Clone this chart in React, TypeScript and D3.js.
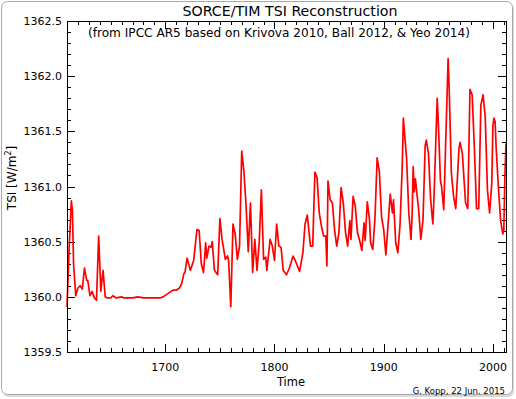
import { useEffect, useRef } from 'react';
import * as d3 from 'd3';

// TSI reconstruction, values
const years = [
  1610, 1612, 1614, 1615, 1616, 1618, 1620, 1622, 1624, 1626, 1628, 1629, 1631, 1633, 1635, 1637, 1639, 1641, 1643, 1645,
  1647, 1650, 1652, 1655, 1660, 1662, 1670, 1675, 1680, 1685, 1690, 1695, 1698, 1701, 1704, 1707, 1710, 1713, 1715, 1717,
  1718, 1720, 1723, 1726, 1729, 1731, 1733, 1735, 1737, 1738, 1740, 1742, 1743, 1745, 1748, 1750, 1752, 1755, 1757, 1758,
  1760, 1762, 1764, 1766, 1768, 1770, 1772, 1774, 1776, 1778, 1780, 1782, 1784, 1786, 1788, 1790, 1792, 1793, 1796, 1798,
  1800, 1802, 1804, 1806, 1808, 1811, 1814, 1817, 1819, 1823, 1826, 1828, 1830, 1833, 1835, 1837, 1839, 1841, 1843, 1845,
  1847, 1848, 1849, 1851, 1853, 1855, 1857, 1859, 1861, 1863, 1865, 1867, 1869, 1870, 1872, 1874, 1876, 1878, 1880, 1882,
  1883, 1885, 1887, 1888, 1890, 1892, 1894, 1896, 1898, 1900, 1902, 1905, 1906, 1908, 1909, 1911, 1913, 1915, 1917, 1918,
  1921, 1923, 1925, 1926, 1927, 1928, 1929, 1932, 1934, 1936, 1938, 1939, 1941, 1943, 1945, 1946, 1949, 1950, 1952, 1953,
  1955, 1959, 1960, 1962, 1964, 1966, 1969, 1970, 1972, 1975, 1977, 1979, 1981, 1983, 1985, 1987, 1989, 1991, 1993, 1995,
  1997, 1999, 2000, 2001, 2002, 2003, 2005, 2007, 2009, 2010, 2011, 2012,
];
const tsi = [
  1359.91, 1360.45, 1360.87, 1360.78, 1360.30, 1360.01, 1360.08, 1360.10, 1360.07, 1360.26, 1360.15, 1360.15, 1360.01, 1360.05, 1359.99, 1359.97, 1360.55, 1360.05, 1360.24, 1360.00,
  1359.99, 1359.99, 1360.01, 1359.99, 1360.00, 1359.99, 1359.99, 1360.00, 1359.99, 1359.99, 1359.99, 1359.99, 1360.00, 1360.02, 1360.04, 1360.06, 1360.06, 1360.08, 1360.12, 1360.21,
  1360.22, 1360.35, 1360.24, 1360.33, 1360.61, 1360.60, 1360.30, 1360.22, 1360.49, 1360.35, 1360.46, 1360.45, 1360.50, 1360.24, 1360.20, 1360.71, 1360.52, 1360.34, 1360.37, 1360.33,
  1359.91, 1360.66, 1360.57, 1360.34, 1360.46, 1361.32, 1361.14, 1360.82, 1360.41, 1360.85, 1360.22, 1360.52, 1360.24, 1360.49, 1360.97, 1360.34, 1360.36, 1360.24, 1360.52, 1360.46,
  1360.33, 1360.66, 1360.46, 1360.45, 1360.24, 1360.20, 1360.27, 1360.37, 1360.33, 1360.23, 1360.40, 1360.66, 1360.74, 1360.46, 1360.46, 1361.13, 1361.08, 1360.76, 1360.64, 1360.55,
  1360.55, 1360.28, 1361.05, 1360.88, 1360.85, 1360.61, 1360.46, 1360.58, 1360.99, 1360.85, 1360.59, 1360.46, 1360.69, 1360.52, 1360.91, 1360.82, 1360.58, 1360.51, 1360.42, 1360.67,
  1360.51, 1360.86, 1360.70, 1360.49, 1360.43, 1360.71, 1361.26, 1361.14, 1360.73, 1360.61, 1360.38, 1360.79, 1360.93, 1360.76, 1360.88, 1360.49, 1360.40, 1360.66, 1361.19, 1361.62,
  1361.25, 1360.76, 1360.52, 1360.73, 1361.18, 1360.95, 1361.07, 1360.79, 1360.52, 1360.70, 1361.37, 1361.42, 1361.30, 1360.88, 1360.66, 1360.88, 1361.80, 1361.58, 1361.05, 1361.00,
  1360.79, 1362.16, 1361.88, 1361.12, 1360.91, 1360.80, 1361.35, 1361.40, 1361.30, 1360.85, 1360.80, 1361.88, 1361.83, 1361.36, 1360.80, 1360.80, 1361.74, 1361.83, 1361.63, 1360.97,
  1360.76, 1361.03, 1361.55, 1361.62, 1361.59, 1361.35, 1361.00, 1360.70, 1360.57, 1360.60, 1361.10, 1361.39,
];

const xMajor = [1700, 1800, 1900, 2000];
const yMajor = [1359.5, 1360.0, 1360.5, 1361.0, 1361.5, 1362.0, 1362.5];

export default function App() {
  const ref = useRef<SVGSVGElement>(null);

  useEffect(() => {
    const svg = d3.select(ref.current);
    svg.selectAll('*').remove();

    const left = 67, right = 506, top = 21, bottom = 352;
    const x = d3.scaleLinear().domain([1610, 2012]).range([left, right]);
    const y = d3.scaleLinear().domain([1359.5, 1362.5]).range([bottom, top]);
    const font = 'DejaVu Sans, Verdana, sans-serif';

    // frame around the whole picture
    svg.append('rect')
      .attr('x', 3).attr('y', 3).attr('width', 511).attr('height', 394).attr('rx', 6)
      .attr('fill', '#d8d8d8');
    svg.append('rect')
      .attr('x', 1.5).attr('y', 1.5).attr('width', 511).attr('height', 393).attr('rx', 6)
      .attr('fill', '#fff').attr('stroke', '#a8a8a8');

    // minor / major ticks on all four sides
    const g = svg.append('g').attr('stroke', '#000').attr('stroke-width', 1);
    d3.range(1610, 2011, 10).forEach(yr => {
      const len = yr % 100 === 0 ? 8 : 4;
      const px = Math.round(x(yr)) + 0.5;
      g.append('line').attr('x1', px).attr('x2', px).attr('y1', bottom).attr('y2', bottom - len);
      g.append('line').attr('x1', px).attr('x2', px).attr('y1', top).attr('y2', top + len);
    });
    d3.range(0, 31).forEach(i => {
      const v = 1359.5 + i * 0.1;
      const len = i % 5 === 0 ? 8 : 4;
      const py = Math.round(y(v)) + 0.5;
      g.append('line').attr('x1', left).attr('x2', left + len).attr('y1', py).attr('y2', py);
      g.append('line').attr('x1', right).attr('x2', right - len).attr('y1', py).attr('y2', py);
    });

    // data line
    const line = d3.line<number>()
      .x((d, i) => x(years[i]))
      .y(d => y(d));
    svg.append('path')
      .datum(tsi)
      .attr('fill', 'none')
      .attr('stroke', '#f00')
      .attr('stroke-width', 1.7)
      .attr('stroke-linejoin', 'round')
      .attr('d', line);

    svg.append('rect')
      .attr('x', left + 0.5).attr('y', top + 0.5)
      .attr('width', right - left).attr('height', bottom - top)
      .attr('fill', 'none').attr('stroke', '#000');

    // tick labels
    svg.append('g').selectAll('text').data(yMajor).join('text')
      .attr('x', 62).attr('y', d => y(d) + 4)
      .attr('text-anchor', 'end')
      .attr('font-family', font).attr('font-size', 11)
      .text(d => d.toFixed(1));
    svg.append('g').selectAll('text').data(xMajor).join('text')
      .attr('x', d => x(d)).attr('y', 371)
      .attr('text-anchor', 'middle')
      .attr('font-family', font).attr('font-size', 11)
      .text(d => d);

    // titles
    svg.append('text')
      .attr('x', 290).attr('y', 16)
      .attr('text-anchor', 'middle')
      .attr('font-family', font).attr('font-size', 14)
      .attr('textLength', 215).attr('lengthAdjust', 'spacingAndGlyphs')
      .text('SORCE/TIM TSI Reconstruction');
    svg.append('text')
      .attr('x', 279).attr('y', 37)
      .attr('text-anchor', 'middle')
      .attr('font-family', font).attr('font-size', 11.5)
      .attr('textLength', 382).attr('lengthAdjust', 'spacingAndGlyphs')
      .text('(from IPCC AR5 based on Krivova 2010, Ball 2012, & Yeo 2014)');
    svg.append('text')
      .attr('x', 291).attr('y', 386)
      .attr('text-anchor', 'middle')
      .attr('font-family', font).attr('font-size', 11.5)
      .text('Time');
    svg.append('text')
      .attr('x', 505).attr('y', 394)
      .attr('text-anchor', 'end')
      .attr('font-family', font).attr('font-size', 8.5)
      .text('G. Kopp, 22 Jun. 2015');

    const yl = svg.append('text')
      .attr('transform', 'translate(16,178) rotate(-90)')
      .attr('text-anchor', 'middle')
      .attr('font-family', font).attr('font-size', 12);
    yl.append('tspan').text('TSI [W/m');
    yl.append('tspan').attr('font-size', 8).attr('dy', -5).text('2');
    yl.append('tspan').attr('dy', 5).text(']');
  }, []);

  return (
    <svg
      ref={ref}
      width={516}
      height={399}
      style={{ position: 'absolute', left: 0, top: 0, background: '#fff' }}
    />
  );
}
